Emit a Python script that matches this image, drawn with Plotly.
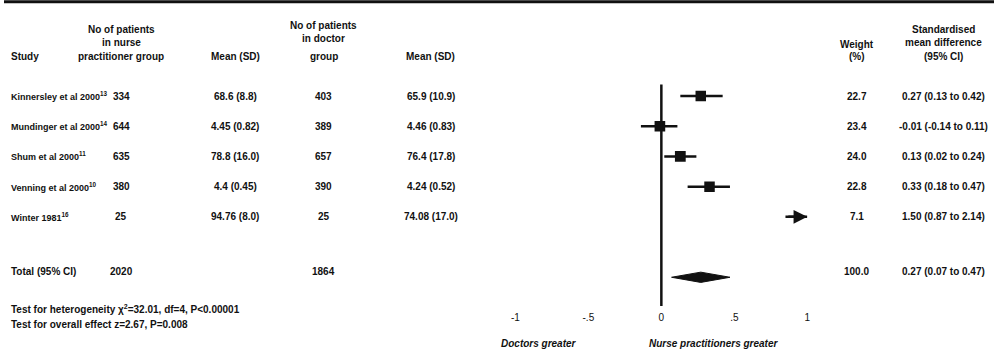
import plotly.graph_objects as go

studies = ["Kinnersley et al 2000", "Mundinger et al 2000", "Shum et al 2000",
           "Venning et al 2000", "Winter 1981"]
refs = ["13", "14", "11", "10", "16"]
nurse_n = ["334", "644", "635", "380", "25"]
nurse_mean_sd = ["68.6 (8.8)", "4.45 (0.82)", "78.8 (16.0)", "4.4 (0.45)", "94.76 (8.0)"]
doctor_n = ["403", "389", "657", "390", "25"]
doctor_mean_sd = ["65.9 (10.9)", "4.46 (0.83)", "76.4 (17.8)", "4.24 (0.52)", "74.08 (17.0)"]
weight = [22.7, 23.4, 24.0, 22.8, 7.1]
smd = [0.27, -0.01, 0.13, 0.33, 1.50]
ci_lo = [0.13, -0.14, 0.02, 0.18, 0.87]
ci_hi = [0.42, 0.11, 0.24, 0.47, 2.14]

total_nurse_n = "2020"
total_doctor_n = "1864"
total_weight = 100.0
total_smd = 0.27
total_lo = 0.07
total_hi = 0.47

tick_vals = [-1, -0.5, 0, 0.5, 1]
tick_text = ["-1", "-.5", "0", ".5", "1"]

FONT = "Liberation Sans Narrow, Arial Narrow, Liberation Sans, Arial"
INK = "#111111"
XMIN, XMAX = -1.0, 1.0

n = len(studies)
rows = list(range(n))
total_row = n + 1

fig = go.Figure()

# confidence intervals
cx, cy = [], []
for i in rows:
    cx += [max(ci_lo[i], XMIN), min(ci_hi[i], XMAX), None]
    cy += [i, i, None]
fig.add_trace(go.Scatter(x=cx, y=cy, mode="lines",
                         line=dict(color=INK, width=2.5), hoverinfo="skip"))

# point estimates (squares sized by weight)
vis = [i for i in rows if XMIN <= smd[i] <= XMAX]
fig.add_trace(go.Scatter(
    x=[smd[i] for i in vis], y=[i for i in vis], mode="markers",
    marker=dict(symbol="square", color=INK, opacity=1,
                size=[2.2 * weight[i] ** 0.5 for i in vis],
                line=dict(color=INK, width=0)),
    hoverinfo="skip"))

# arrows for CIs running off the scale
for i in rows:
    if ci_hi[i] > XMAX:
        fig.add_annotation(x=XMAX, y=i, ax=max(ci_lo[i], XMIN) - 0.03, ay=i,
                           xref="x", yref="y", axref="x", ayref="y",
                           showarrow=True, arrowhead=2, arrowsize=1.1,
                           arrowwidth=2.5, arrowcolor=INK, text="")

# pooled diamond
h = 0.17
fig.add_trace(go.Scatter(
    x=[total_lo, total_smd, total_hi, total_smd, total_lo],
    y=[total_row, total_row - h, total_row, total_row + h, total_row],
    mode="lines", fill="toself", fillcolor=INK,
    line=dict(color=INK, width=1), hoverinfo="skip"))

# line of no effect
fig.add_shape(type="line", xref="x", yref="y", x0=0, x1=0,
              y0=-0.38, y1=total_row + 0.95, line=dict(color=INK, width=2.5))

# top rule
fig.add_shape(type="line", xref="paper", yref="paper", x0=0, x1=1, y0=0.995, y1=0.995,
              line=dict(color=INK, width=3))


def txt(x, y, s, xanchor="center", size=10, italic=False):
    body = f"<b>{s}</b>"
    if italic:
        body = f"<i>{body}</i>"
    fig.add_annotation(x=x, y=y, xref="paper", yref="y", text=body,
                       showarrow=False, xanchor=xanchor, yanchor="middle",
                       font=dict(family=FONT, size=size, color=INK))


W = 997.0
col_study = 5 / W
col_nn = 118 / W
col_nm = 233 / W
col_dn = 322 / W
col_dm = 430 / W
col_w = 859 / W
col_ci = 946 / W

# headers
txt(col_study, -1.3, "Study", "left")
txt(col_nn, -2.2, "No of patients")
txt(col_nn, -1.76, "in nurse")
txt(col_nn, -1.3, "practitioner group")
txt(col_nm, -1.3, "Mean (SD)")
txt(col_dn, -2.35, "No of patients")
txt(col_dn, -1.9, "in doctor")
txt(col_dn, -1.3, "group")
txt(col_dm, -1.3, "Mean (SD)")
txt(col_w, -1.72, "Weight")
txt(col_w, -1.3, "(%)")
txt(col_ci, -2.2, "Standardised")
txt(col_ci, -1.76, "mean difference")
txt(col_ci, -1.3, "(95% CI)")

for i in rows:
    txt(col_study, i, f"{studies[i]}<sup>{refs[i]}</sup>", "left", size=9)
    txt(col_nn, i, nurse_n[i])
    txt(col_nm, i, nurse_mean_sd[i])
    txt(col_dn, i, doctor_n[i])
    txt(col_dm, i, doctor_mean_sd[i])
    txt(col_w, i, f"{weight[i]:.1f}")
    txt(col_ci, i, f"{smd[i]:.2f} ({ci_lo[i]:.2f} to {ci_hi[i]:.2f})")

ty = total_row - 0.2
txt(col_study, ty, "Total (95% CI)", "left")
txt(col_nn, ty, total_nurse_n)
txt(col_dn, ty, total_doctor_n)
txt(col_w, ty, f"{total_weight:.1f}")
txt(col_ci, ty, f"{total_smd:.2f} ({total_lo:.2f} to {total_hi:.2f})")

txt(col_study, total_row + 1.05, "Test for heterogeneity χ<sup>2</sup>=32.01, df=4, P<0.00001", "left")
txt(col_study, total_row + 1.55, "Test for overall effect z=2.67, P=0.008", "left")

# direction labels
for xv, s in [(-0.84, "Doctors greater"), (0.36, "Nurse practitioners greater")]:
    fig.add_annotation(x=xv, y=total_row + 2.2, xref="x", yref="y",
                       text=f"<i><b>{s}</b></i>", showarrow=False,
                       font=dict(family=FONT, size=10, color=INK))

fig.update_layout(
    width=997, height=354,
    margin=dict(l=0, r=0, t=0, b=0),
    paper_bgcolor="white", plot_bgcolor="rgba(0,0,0,0)",
    showlegend=False,
    xaxis=dict(domain=[515 / W, 809 / W], range=[XMIN, XMAX],
               anchor="free", position=1 - 310 / 354,
               showgrid=False, zeroline=False, showline=False, ticks="",
               tickvals=tick_vals, ticktext=tick_text,
               tickfont=dict(family=FONT, size=10, color=INK)),
    yaxis=dict(domain=[0, 1], range=[8.54, -3.18], visible=False),
)

fig.write_html("out.html", config={"displayModeBar": False},
               post_script="document.body.style.margin='0';")
